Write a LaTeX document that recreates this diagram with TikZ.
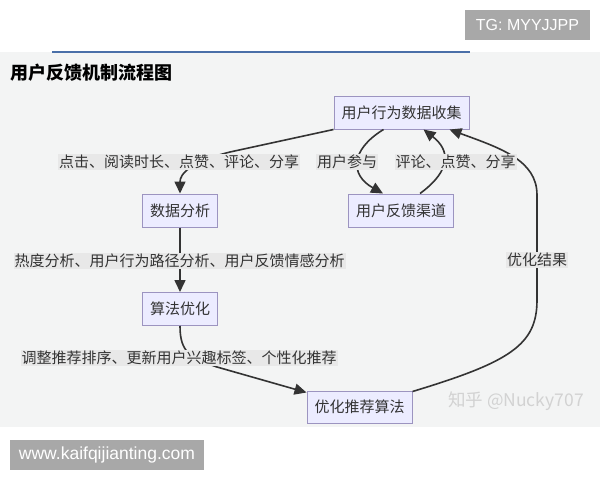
\documentclass[tikz,border=0pt]{standalone}
\usepackage{fontspec}
\setmainfont{Noto Sans CJK SC}
\newfontfamily\latinfont{Liberation Sans}
\usetikzlibrary{arrows.meta}
\definecolor{panel}{HTML}{F3F4F4}
\definecolor{rule}{HTML}{4A6FA8}
\definecolor{ink}{HTML}{333333}
\definecolor{nodefill}{HTML}{ECECFF}
\definecolor{nodeline}{HTML}{9C94C0}
\definecolor{lblfill}{HTML}{E8E8E8}
\definecolor{wmgray}{HTML}{A8A8A8}
\definecolor{zhgray}{HTML}{D2D2D2}

\begin{document}
\begin{tikzpicture}[x=1pt,y=-1pt,
font=\fontsize{15}{18}\selectfont,
box/.style={
draw=nodeline,
fill=nodefill,
line width=1pt,
text=ink,
inner xsep=7.5pt,
inner ysep=0pt,
minimum height=33pt},
lbl/.style={fill=lblfill,text=ink,inner xsep=1pt,inner ysep=1.5pt},
link/.style={draw=ink,line width=1.6pt,-{Triangle[length=12pt,width=11pt]}},
wm/.style={fill=wmgray,text=white,font=\latinfont\fontsize{16}{18}\selectfont,
inner sep=0pt,minimum height=30pt},
]
\useasboundingbox(0,0)rectangle(600,480);
%Panel
\fill[panel](0,52)rectangle(600,427);
\draw[rule,line width=2pt](52,52)--(470,52);
\node[anchor=west,font=\fontsize{18}{20}\selectfont\bfseries](title)at(7,73){用户反馈机制流程图};
%Nodes
\node[box](collect)at(401.5,112.5){用户行为数据收集};
\node[box](feedback)at(401,210.5){用户反馈渠道};
\node[box](analysis)at(180,210.5){数据分析};
\node[box](algo)at(180,309){算法优化};
\node[box,minimum height=32pt](recommend)at(359.5,407){优化推荐算法};
%Edges
\draw[link](collect.south west)--(230,152)..controls(190,162)and(180,174)..(analysis.north);
\draw[link]([xshift=-18pt]collect.south)..controls(350,150)and(350,175)..([xshift=-18pt]feedback.north);
\draw[link]([xshift=19pt]feedback.north)..controls(452,170)and(450,150)..([xshift=22pt]collect.south);
\draw[link](analysis.south)--(algo.north);
\draw[link](algo.south)..controls(180,352)and(190,358)..(217,367)--([yshift=-2pt]recommend.north west);
\draw[link]([yshift=-1pt]recommend.north east)..controls(510,362)and(537,345)..(537,300)
--(537,195)..controls(537,160)and(500,148)..([xshift=-20pt]collect.south east);
%Edge labels
\node[lbl](l1)at(179,162){点击、阅读时长、点赞、评论、分享};
\node[lbl](l2)at(347,162){用户参与};
\node[lbl](l3)at(455.5,162){评论、点赞、分享};
\node[lbl](l4)at(179.5,261){热度分析、用户行为路径分析、用户反馈情感分析};
\node[lbl](l5)at(179,358){调整推荐排序、更新用户兴趣标签、个性化推荐};
\node[lbl](l6)at(537,260){优化结果};
%Watermarks
\node[text=zhgray,font=\fontsize{17.5}{20}\selectfont](zhihu)at(516,401){知乎 @Nucky707};
\node[wm,minimum width=125pt](tg)at(527.5,25){TG: MYYJJPP};
\node[wm,minimum width=194pt,font=\latinfont\fontsize{17.5}{20}\selectfont](www)at(107,455){www.kaifqijianting.com};
\end{tikzpicture}
\end{document}
